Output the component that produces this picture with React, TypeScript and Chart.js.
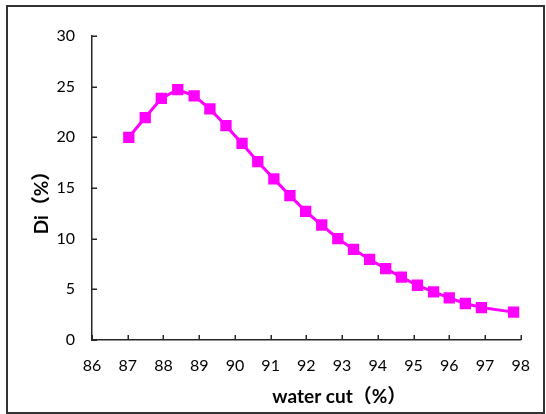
import React, { useEffect, useRef } from "react";
import { Chart, registerables } from "chart.js";

Chart.register(...registerables);

const waterCut = [
  87.03, 87.49, 87.94, 88.4, 88.86, 89.3, 89.75, 90.2, 90.64, 91.09, 91.54, 91.98,
  92.43, 92.88, 93.32, 93.77, 94.22, 94.66, 95.11, 95.56, 96.0, 96.45, 96.9, 97.8,
];
const di = [
  20.0, 21.95, 23.85, 24.7, 24.1, 22.8, 21.15, 19.4, 17.6, 15.9, 14.25, 12.7,
  11.35, 10.0, 8.95, 7.95, 7.05, 6.2, 5.4, 4.75, 4.15, 3.6, 3.2, 2.75,
];
const xMin = 86;
const xMax = 98;
const xStep = 1;
const yMin = 0;
const yMax = 30;
const yStep = 5;
const xTitle = "water cut（%）";
const yTitle = "Di（%）";

const AXIS_COLOR = "#262626";
const LINE_COLOR = "#FF00FF";

const decorPlugin = {
  id: "decor",
  beforeDatasetsDraw(chart: any) {
    const { ctx, chartArea, scales } = chart;
    ctx.save();
    ctx.strokeStyle = AXIS_COLOR;
    ctx.lineWidth = 1.5;
    scales.x.ticks.forEach((t: any) => {
      const px = Math.round(scales.x.getPixelForValue(t.value)) + 0.25;
      ctx.beginPath();
      ctx.moveTo(px, chartArea.bottom);
      ctx.lineTo(px, chartArea.bottom - 5);
      ctx.stroke();
    });
    scales.y.ticks.forEach((t: any) => {
      const py = Math.round(scales.y.getPixelForValue(t.value)) + 0.25;
      ctx.beginPath();
      ctx.moveTo(chartArea.left, py);
      ctx.lineTo(chartArea.left + 5, py);
      ctx.stroke();
    });
    ctx.restore();
  },
  afterDraw(chart: any) {
    const { ctx, chartArea } = chart;
    ctx.save();
    ctx.strokeStyle = "#333333";
    ctx.lineWidth = 2;
    ctx.strokeRect(7, 6, 537, 407);

    ctx.fillStyle = "#000000";
    ctx.font = 'bold 19px Lato, "Noto Sans CJK SC", sans-serif';
    ctx.textAlign = "center";
    ctx.textBaseline = "middle";
    const cx = (chartArea.left + chartArea.right) / 2;
    ctx.fillText(xTitle, cx + 33, chartArea.bottom + 57);

    const cy = (chartArea.top + chartArea.bottom) / 2;
    ctx.translate(chartArea.left - 50, cy + 10);
    ctx.rotate(-Math.PI / 2);
    ctx.fillText(yTitle, 0, 0);
    ctx.restore();
  },
};

export default function App() {
  const canvasRef = useRef<HTMLCanvasElement | null>(null);

  useEffect(() => {
    if (!canvasRef.current) return;
    const chart = new Chart(canvasRef.current, {
      type: "line",
      data: {
        datasets: [
          {
            data: waterCut.map((x, i) => ({ x, y: di[i] })),
            borderColor: LINE_COLOR,
            backgroundColor: LINE_COLOR,
            borderWidth: 3,
            pointStyle: "rect",
            pointRadius: 8,
            pointBorderWidth: 0,
            pointBackgroundColor: LINE_COLOR,
            tension: 0,
          },
        ],
      },
      options: {
        animation: false,
        responsive: false,
        layout: { padding: { left: 52, top: 36, right: 19, bottom: 34 } },
        plugins: {
          legend: { display: false },
          tooltip: { enabled: false },
        },
        scales: {
          x: {
            type: "linear",
            min: xMin,
            max: xMax,
            grid: { display: false, drawTicks: false },
            border: { display: true, color: AXIS_COLOR, width: 1.5 },
            ticks: {
              stepSize: xStep,
              padding: 16,
              color: "#000000",
              font: { family: "Lato", size: 16 },
              maxRotation: 0,
            },
            afterFit: (s: any) => {
              s.height = 40;
            },
          },
          y: {
            type: "linear",
            min: yMin,
            max: yMax,
            grid: { display: false, drawTicks: false },
            border: { display: true, color: AXIS_COLOR, width: 1.5 },
            ticks: {
              stepSize: yStep,
              padding: 17,
              color: "#000000",
              font: { family: "Lato", size: 16 },
            },
            afterFit: (s: any) => {
              s.width = 40;
            },
          },
        },
      },
      plugins: [decorPlugin],
    });
    return () => chart.destroy();
  }, []);

  return (
    <div style={{ position: "absolute", left: 0, top: 0, width: 546, height: 414, background: "#fff" }}>
      <canvas ref={canvasRef} width={546} height={414} style={{ display: "block" }} />
    </div>
  );
}
